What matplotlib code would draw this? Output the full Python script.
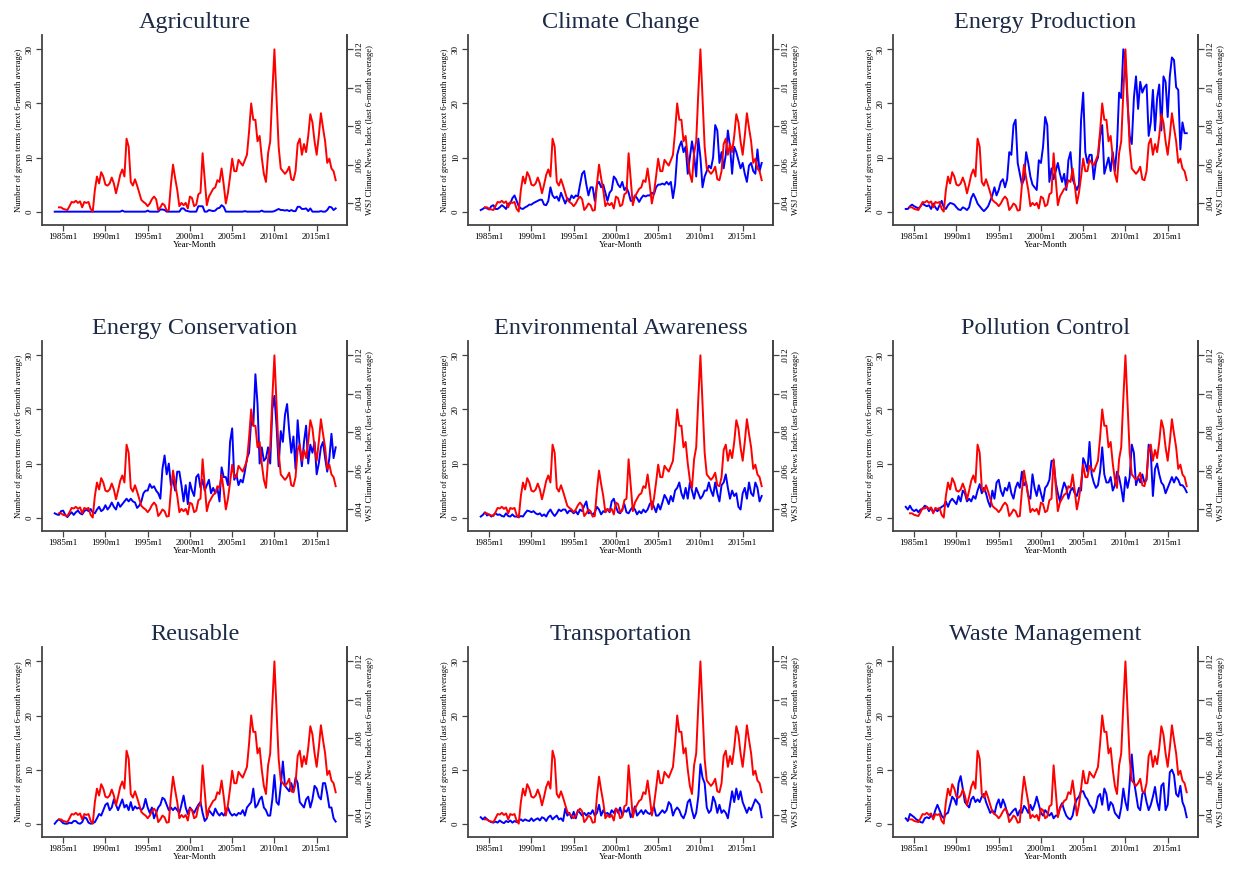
import matplotlib
matplotlib.use("Agg")
import matplotlib.pyplot as plt
import numpy as np

plt.rcParams['font.family'] = ['Liberation Serif', 'DejaVu Serif']

# quarterly dates (decimal years)
blue_dates = np.arange(1984.0, 2017.5, 0.25)   # 1984q1 .. 2017q2
red_dates = np.arange(1984.5, 2017.5, 0.25)    # 1984q3 .. 2017q2

# WSJ Climate News Index (last 6-month average), in thousandths
wsj_index = np.array([
    3.79, 3.79,
    3.71, 3.68, 3.65, 3.85,
    4.07, 4.04, 4.13, 4.02,
    4.10, 3.79, 4.07, 4.02,
    4.07, 3.71, 3.57, 4.69,
    5.39, 5.03, 5.62, 5.39,
    4.97, 4.92, 5.03, 5.34,
    5.03, 4.52, 4.97, 5.48,
    5.76, 5.39, 7.36, 6.94,
    5.11, 4.92, 5.25, 4.92,
    4.55, 4.18, 4.07, 3.99,
    3.85, 3.99, 4.21, 4.35,
    4.21, 3.65, 3.79, 3.99,
    3.90, 3.62, 3.65, 4.97,
    6.01, 5.31, 4.69, 3.85,
    4.02, 3.90, 4.02, 3.73,
    4.35, 4.27, 3.85, 3.93,
    4.47, 4.55, 6.60, 5.25,
    3.90, 4.35, 4.55, 4.75,
    4.83, 5.20, 5.11, 5.81,
    4.97, 3.99, 4.55, 5.39,
    6.32, 5.67, 5.67, 6.26,
    6.10, 5.96, 6.24, 6.52,
    7.73, 9.19, 8.34, 8.34,
    7.22, 7.50, 6.38, 5.53,
    5.11, 6.60, 7.22, 9.75,
    12.00, 9.47, 6.94, 5.81,
    5.67, 5.53, 5.67, 5.90,
    5.25, 5.20, 5.67, 7.08,
    7.36, 6.52, 7.08, 6.66,
    7.50, 8.63, 8.20, 7.22,
    6.52, 7.50, 8.68, 7.92,
    7.22, 6.10, 6.32, 5.81,
    5.67, 5.20,
]) / 1000

# number of green terms, quarterly values
agriculture = [
    0, 0, 0, 0,  0, 0, 0, 0,  0, 0, 0, 0,  0, 0, 0, 0,
    0, 0, 0, 0,  0, 0, 0, 0,  0, 0, 0, 0,  0, 0, 0, 0,
    0.2, 0, 0, 0,  0, 0, 0, 0,  0, 0, 0, 0,  0.2, 0, 0, 0,
    0, 0, 0.4, 0.4,  0.3, 0, 0, 0,  0, 0, 0, 0,  0.6, 0.6, 0.2, 0.1,
    0, 0, 0, 0,  1.0, 1.0, 1.0, 0,  0, 0.3, 0.2, 0.1,  0.2, 0.6, 0.7, 1.2,
    0.9, 0, 0, 0,  0, 0, 0, 0,  0, 0, 0.1, 0,  0, 0, 0, 0,
    0, 0, 0.2, 0,  0, 0, 0, 0,  0.1, 0.3, 0.5, 0.3,  0.3, 0.2, 0.3, 0.1,
    0.3, 0.1, 0.1, 0.9,  0.9, 0.5, 0.5, 0.6,  0.1, 0.6, 0, 0,  0, 0, 0.1, 0,
    0, 0.3, 0.9, 0.8,  0.3, 0.6,
]
climate_change = [
    0.3, 0.5, 0.8, 0.6,  0.4, 1.0, 1.2, 0.5,  0.5, 0.8, 1.2, 0.9,  0.5, 1.5, 1.5, 2.5,
    3.0, 2.0, 1.0, 0.6,  0.5, 0.8, 1.0, 1.3,  1.3, 1.6, 1.8, 2.0,  2.2, 2.2, 1.3, 1.2,
    2.0, 4.5, 3.0, 2.5,  2.8, 2.0, 3.5, 2.5,  1.5, 2.5, 2.0, 3.0,  2.5, 3.0, 2.8, 5.0,
    7.0, 7.5, 5.0, 3.0,  4.5, 4.5, 2.0, 5.0,  5.5, 4.5, 5.0, 3.5,  2.0, 3.5, 4.0, 6.5,
    6.0, 5.0, 4.5, 5.5,  4.0, 4.5, 3.5, 2.0,  2.0, 3.0, 2.5, 1.8,  2.5, 3.0, 2.8, 3.0,
    3.0, 3.5, 3.2, 4.5,  5.0, 5.0, 5.2, 5.0,  5.5, 5.0, 5.5, 2.5,  5.0, 10.5, 12.0, 13.0,
    11.0, 12.0, 7.0, 10.0,  13.0, 10.5, 6.5, 13.5,  10.0, 4.5, 6.5, 7.5,  8.5, 8.0, 10.0, 16.0,
    15.0, 9.0, 11.0, 8.0,  10.5, 15.0, 12.0, 7.0,  12.0, 11.0, 9.5, 8.0,  9.0, 7.0, 5.5, 8.5,
    9.0, 7.5, 7.0, 11.5,  7.5, 9.0,
]
energy_production = [
    0.5, 0.5, 1.0, 1.3,  1.0, 0.8, 0.6, 1.0,  1.5, 1.2, 1.0, 1.2,  0.5, 1.5, 0.8, 0.3,
    1.2, 2.0, 0.8, 0.5,  1.2, 1.6, 1.5, 1.3,  0.8, 0.4, 0.3, 0.8,  0.6, 0.3, 0.8, 2.5,
    3.3, 2.5, 1.5, 1.0,  0.5, 0.1, 0.5, 1.0,  2.0, 3.0, 4.5, 3.0,  4.0, 5.5, 6.0, 4.5,
    6.0, 11.0, 10.5, 16.0,  17.0, 9.0, 7.0, 5.0,  6.0, 11.0, 9.0, 6.5,  5.0, 4.5, 4.0, 9.5,
    9.0, 12.0, 17.5, 16.0,  5.5, 8.0, 6.0, 7.5,  9.0, 7.0, 5.5, 7.0,  4.0, 9.5, 11.0, 6.0,
    5.0, 4.0, 5.0, 17.0,  22.0, 11.0, 9.0, 10.5,  10.5, 6.0, 9.0, 10.0,  14.0, 16.0, 7.0, 8.5,
    10.0, 7.5, 11.0, 7.5,  12.0, 22.0, 21.0, 30.0,  28.0, 20.0, 14.0, 12.5,  21.0, 25.0, 19.0, 24.0,
    22.0, 23.0, 23.5, 14.0,  16.5, 22.5, 15.0, 21.0,  23.5, 15.0, 25.0, 24.0,  17.5, 25.0, 28.5, 28.0,
    23.0, 22.5, 11.5, 16.5,  14.5, 14.5,
]
energy_conservation = [
    0.8, 0.6, 0.5, 1.2,  1.3, 0.5, 0.1, 0.6,  1.0, 0.5, 1.0, 1.3,  0.8, 0.6, 1.2, 1.5,
    1.2, 1.6, 1.0, 0.8,  1.5, 2.0, 1.2, 1.5,  2.3, 1.5, 2.0, 2.8,  2.0, 1.5, 2.8, 2.0,
    2.5, 3.0, 3.5, 3.0,  3.5, 3.0, 2.8, 1.8,  2.2, 3.0, 4.5, 5.0,  5.0, 6.2, 5.5, 5.8,
    5.0, 4.5, 3.5, 9.0,  11.5, 8.0, 10.0, 6.0,  7.0, 5.0, 8.5, 8.5,  6.0, 3.0, 6.0, 2.5,
    6.5, 5.0, 4.0, 7.5,  8.0, 5.5, 7.0, 5.0,  6.0, 7.0, 4.5, 5.5,  4.5, 5.5, 3.0, 9.3,
    7.5, 7.5, 6.0, 14.0,  16.5, 7.0, 8.0, 6.0,  7.0, 6.5, 8.5, 11.0,  12.0, 18.0, 17.0, 26.5,
    21.0, 10.0, 13.0, 10.5,  11.0, 13.0, 10.0, 20.0,  22.5, 17.0, 9.5, 16.0,  14.0, 19.0, 21.0, 16.0,
    12.0, 15.0, 9.0, 18.0,  13.0, 9.5, 14.0, 17.0,  10.0, 13.5, 12.0, 14.0,  8.0, 10.0, 13.0, 14.0,
    11.0, 8.5, 11.0, 15.5,  11.0, 13.0,
]
environmental_awareness = [
    0.2, 0.5, 1.0, 0.4,  0.6, 0.2, 0.5, 0.8,  0.5, 0.6, 0.3, 0.2,  0.8, 0.3, 0.2, 0.6,
    0.2, 0.2, 0.1, 0.3,  0.2, 0.8, 1.3, 1.2,  1.0, 1.2, 0.8, 0.6,  0.8, 0.3, 0.6, 0.2,
    1.0, 1.5, 0.8, 0.3,  0.8, 1.5, 1.2, 1.5,  1.5, 0.8, 1.3, 1.2,  0.8, 1.2, 0.6, 1.5,
    1.2, 2.2, 3.0, 0.8,  1.0, 0.5, 1.0, 2.0,  1.5, 0.6, 1.2, 1.0,  1.6, 1.0, 3.0, 3.5,
    2.0, 1.0, 0.8, 1.5,  2.5, 1.0, 0.8, 1.5,  2.0, 1.5, 0.6, 1.2,  0.8, 1.5, 1.0, 1.5,
    2.5, 3.0, 2.0, 1.0,  2.5, 1.5, 2.8, 4.2,  3.5, 2.5, 4.0, 3.0,  5.0, 5.5, 6.5, 4.5,
    3.5, 5.5, 3.5, 6.5,  5.0, 3.5, 5.5, 4.5,  3.5, 4.0, 5.0, 5.0,  6.5, 5.0, 4.0, 6.5,
    4.5, 3.0, 6.0, 6.5,  8.0, 5.5, 3.5, 5.0,  4.0, 4.5, 2.0, 1.5,  4.5, 5.5, 3.5, 6.5,
    4.5, 4.0, 6.5, 5.5,  3.0, 4.0,
]
pollution_control = [
    2.0, 1.5, 2.2, 1.5,  1.2, 1.5, 1.0, 1.5,  1.6, 2.2, 2.0, 1.2,  1.8, 1.0, 1.5, 1.2,
    1.6, 2.0, 2.2, 3.0,  2.0, 3.0, 3.5, 3.0,  2.5, 4.0, 3.0, 5.0,  4.5, 3.0, 3.5, 3.0,
    4.0, 3.5, 5.0, 6.2,  4.5, 5.5, 4.5, 3.0,  2.0, 5.0, 3.5, 6.5,  7.0, 5.0, 4.0, 5.5,
    5.0, 6.5, 4.5, 3.5,  5.5, 6.5, 5.5, 8.5,  6.0, 6.5, 4.0, 3.5,  8.0, 5.5, 4.0, 6.0,
    4.5, 3.0, 5.5, 6.0,  7.0, 10.5, 10.5, 6.5,  4.5, 3.0, 5.0, 6.5,  5.5, 3.5, 5.0, 5.5,
    4.5, 4.0, 5.5, 5.0,  11.0, 10.0, 8.5, 14.0,  8.0, 6.5, 5.5, 6.0,  8.5, 13.0, 8.0, 6.5,
    6.5, 7.5, 5.0, 6.0,  8.5, 7.5, 5.5, 3.0,  7.5, 5.5, 7.5, 13.5,  12.0, 6.0, 7.5, 6.5,
    8.0, 6.5, 7.0, 13.5,  12.0, 4.0, 9.0, 10.0,  8.0, 6.5, 6.0, 4.5,  5.5, 6.5, 7.5, 6.5,
    7.5, 7.0, 6.0, 6.0,  5.5, 4.7,
]
reusable = [
    0.0, 0.5, 0.8, 0.5,  0.1, 0.0, 0.0, 0.2,  0.1, 0.5, 0.5, 0.1,  0.0, 0.3, 1.2, 1.0,
    0.2, 0.0, 0.1, 0.3,  1.0, 1.8, 1.5, 2.5,  3.5, 3.8, 2.5, 3.0,  4.5, 3.5, 2.5, 3.5,
    4.5, 3.0, 3.5, 2.5,  4.0, 2.5, 3.2, 2.8,  3.0, 2.5, 3.0, 4.6,  3.0, 2.0, 3.0, 1.0,
    2.0, 3.0, 3.5, 4.8,  4.5, 3.5, 2.5, 3.0,  2.5, 3.0, 2.5, 2.0,  3.5, 5.2, 3.0, 1.8,
    3.0, 2.5, 2.0, 2.8,  3.5, 4.0, 2.0, 0.5,  1.0, 2.5, 2.0, 1.5,  2.8, 2.0, 1.5, 2.0,
    1.5, 2.2, 3.0, 2.0,  1.5, 1.8, 1.5, 2.0,  1.8, 2.5, 1.5, 3.0,  3.5, 4.0, 6.5, 3.0,
    3.5, 4.5, 5.0, 3.0,  2.5, 1.5, 1.5, 4.5,  9.0, 4.0, 3.5, 7.0,  11.5, 7.0, 6.5, 6.0,
    7.5, 6.0, 8.5, 7.5,  4.0, 3.5, 3.0, 4.5,  5.0, 3.0, 4.5, 7.0,  6.5, 5.0, 4.5, 7.5,
    7.5, 5.5, 3.0, 3.0,  1.0, 0.4,
]
transportation = [
    1.2, 0.8, 1.2, 0.8,  0.5, 0.3, 0.2, 0.4,  0.2, 0.6, 0.3, 0.1,  0.5, 0.3, 0.6, 0.2,
    0.5, 0.3, 0.6, 0.8,  0.5, 0.8, 0.6, 0.5,  1.0, 0.5, 0.8, 1.0,  0.6, 1.2, 1.0, 0.5,
    1.2, 1.5, 0.8, 1.2,  1.5, 0.8, 1.0, 0.5,  2.8, 1.5, 2.0, 1.0,  2.2, 1.0, 2.5, 2.0,
    1.5, 2.0, 1.5, 2.0,  1.8, 2.5, 1.5, 2.0,  3.5, 1.5, 2.5, 1.8,  2.0, 1.5, 2.5, 2.0,
    2.8, 2.0, 3.0, 1.5,  2.5, 2.2, 3.0, 1.2,  2.0, 3.2, 1.5, 2.0,  2.5, 1.8, 2.5, 2.0,
    1.8, 2.2, 3.2, 1.5,  1.5, 2.0, 2.5, 2.0,  2.5, 4.0, 3.5, 1.5,  2.5, 3.0, 2.5, 1.5,
    1.0, 2.0, 4.0, 4.5,  2.5, 1.0, 2.0, 5.0,  11.0, 8.5, 7.5, 3.0,  2.0, 2.5, 5.0, 4.0,
    2.0, 3.5, 2.0, 2.5,  2.0, 1.0, 3.5, 6.0,  4.0, 6.5, 4.5, 6.0,  4.0, 3.0, 2.0, 3.0,
    2.5, 3.5, 4.5, 4.0,  3.5, 1.2,
]
waste_management = [
    1.0, 0.5, 1.8, 1.5,  1.2, 0.8, 0.6, 0.3,  0.2, 1.0, 1.2, 1.0,  1.5, 1.2, 2.5, 3.5,
    2.5, 1.5, 1.0, 1.8,  2.0, 3.5, 5.0, 4.5,  3.5, 7.5, 8.8, 6.5,  4.0, 3.5, 3.0, 4.5,
    5.0, 4.0, 4.5, 4.0,  5.0, 5.5, 4.0, 3.0,  2.0, 2.5, 1.8, 3.5,  4.5, 3.0, 4.5, 3.5,
    2.0, 1.5, 2.0, 2.5,  2.8, 1.5, 2.5, 2.0,  3.3, 2.8, 2.0, 3.5,  2.5, 3.5, 5.0, 3.5,
    2.0, 1.5, 2.5, 2.0,  1.5, 2.0, 1.0, 1.5,  1.5, 3.0, 3.8, 2.5,  1.5, 1.0, 0.8, 1.5,
    3.5, 4.5, 5.0, 6.0,  6.0, 5.0, 4.5, 3.5,  3.0, 2.0, 3.0, 5.0,  5.5, 3.5, 6.5, 5.5,
    2.5, 4.0, 3.5, 2.0,  1.5, 1.0, 3.0, 6.5,  4.0, 2.5, 7.5, 12.8,  8.0, 5.5, 3.0, 2.5,
    5.5, 6.0, 4.0, 2.5,  3.5, 5.0, 6.8, 4.0,  2.5, 7.0, 7.5, 2.5,  3.5, 9.5, 10.0, 9.0,
    5.5, 5.0, 7.0, 4.0,  3.0, 1.2,
]

titles = ["Agriculture", "Climate Change", "Energy Production",
          "Energy Conservation", "Environmental Awareness", "Pollution Control",
          "Reusable", "Transportation", "Waste Management"]
series = [agriculture, climate_change, energy_production,
          energy_conservation, environmental_awareness, pollution_control,
          reusable, transportation, waste_management]
left_labels = ["Number of green terms (next 6-month average)"] * 6 + \
              ["Number of green terms (last 6-month average)"] * 3
right_label = "WSJ Climate News Index (last 6-month average)"

year_ticks = [1985, 1990, 1995, 2000, 2005, 2010, 2015]
year_labels = ["1985m1", "1990m1", "1995m1", "2000m1", "2005m1", "2010m1", "2015m1"]
left_ticks = [0, 10, 20, 30]
right_ticks = [0.004, 0.006, 0.008, 0.010, 0.012]
right_tick_labels = [".004", ".006", ".008", ".01", ".012"]

axis_col = "#444444"
title_col = "#1c2a45"

fig = plt.figure(figsize=(12.33, 8.73), dpi=100)
lefts = [0.0341, 0.3796, 0.7243]
bottoms = [0.7423, 0.3918, 0.0412]
w, h = 0.2474, 0.2176

for i, (title, blue) in enumerate(zip(titles, series)):
    ax = fig.add_axes([lefts[i % 3], bottoms[i // 3], w, h])
    ax.plot(blue_dates, blue, color="#0000ff", lw=1.4)
    ax.set_xlim(1982.5, 2018.6)
    ax.set_ylim(-2.46, 32.65)
    ax.set_xticks(year_ticks)
    ax.set_xticklabels(year_labels)
    ax.set_yticks(left_ticks)
    ax.set_xlabel("Year-Month", fontsize=6.5, labelpad=0)
    ax.set_ylabel(left_labels[i], fontsize=6.2, labelpad=2)
    ax.set_title(title, fontsize=17.5, color=title_col, pad=5)

    ax2 = ax.twinx()
    ax2.plot(red_dates, wsj_index, color="#ff0000", lw=1.4)
    ax2.set_ylim(0.002874, 0.012745)
    ax2.set_yticks(right_ticks)
    ax2.set_yticklabels(right_tick_labels)
    ax2.set_ylabel(right_label, fontsize=6.2, labelpad=2)

    for a in (ax, ax2):
        a.spines["top"].set_visible(False)
        for s in a.spines.values():
            s.set_color(axis_col)
            s.set_linewidth(1.3)
        a.tick_params(direction="out", length=4, width=0.9, color=axis_col,
                      labelsize=6.5, pad=2)
    ax2.spines["left"].set_visible(False)
    ax2.spines["bottom"].set_visible(False)
    plt.setp(ax.get_yticklabels(), rotation=90, va="center")
    plt.setp(ax2.get_yticklabels(), rotation=90, va="center")

fig.savefig("out.png", dpi=100, facecolor="white")
